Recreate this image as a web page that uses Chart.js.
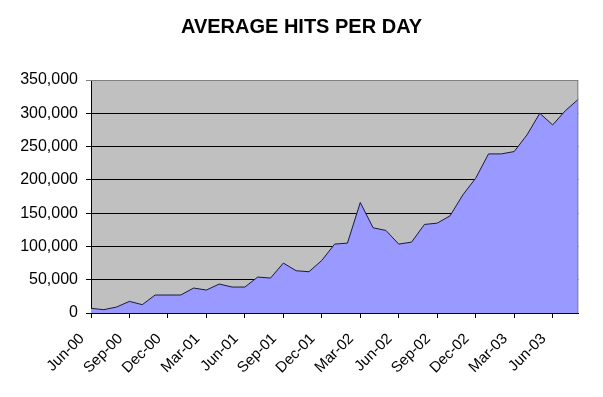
<!DOCTYPE html>
<html>
<head>
<meta charset="utf-8">
<script src="https://cdn.jsdelivr.net/npm/chart.js@4/dist/chart.umd.min.js"></script>
<style>
  html, body { margin: 0; padding: 0; background: #fff; }
  #wrap { width: 603px; height: 397px; }
</style>
</head>
<body>
<div id="wrap"><canvas id="hits" width="603" height="397"></canvas></div>
<script>
// monthly categories, Jun-00 .. Aug-03
const months = [
  'Jun-00', 'Jul-00', 'Aug-00', 'Sep-00', 'Oct-00', 'Nov-00', 'Dec-00', 'Jan-01', 'Feb-01',
  'Mar-01', 'Apr-01', 'May-01', 'Jun-01', 'Jul-01', 'Aug-01', 'Sep-01', 'Oct-01', 'Nov-01',
  'Dec-01', 'Jan-02', 'Feb-02', 'Mar-02', 'Apr-02', 'May-02', 'Jun-02', 'Jul-02', 'Aug-02',
  'Sep-02', 'Oct-02', 'Nov-02', 'Dec-02', 'Jan-03', 'Feb-03', 'Mar-03', 'Apr-03', 'May-03',
  'Jun-03', 'Jul-03', 'Aug-03'
];

// average hits per day
const avgHits = [
  7000, 5000, 9000, 17500, 12500, 27000, 27000, 27000, 37500,
  34500, 43500, 39000, 39000, 54000, 52500, 75000, 63500, 62000,
  79000, 103500, 105000, 166000, 128000, 124000, 103500, 106500, 133000,
  135000, 146000, 177500, 202500, 239000, 239000, 242500, 267500, 300000,
  282500, 304000, 321000
];

const yTicks = { min: 0, max: 350000, step: 50000 };
const labelEvery = 3;

// grey plot background + grey frame on top/right
const plotFrame = {
  id: 'plotFrame',
  beforeDraw(chart) {
    const { ctx, chartArea: a } = chart;
    ctx.save();
    ctx.fillStyle = '#C0C0C0';
    ctx.fillRect(a.left, a.top, a.right - a.left, a.bottom - a.top);
    ctx.restore();
  },
  afterDraw(chart) {
    const { ctx, chartArea: a } = chart;
    ctx.save();
    ctx.strokeStyle = '#808080';
    ctx.lineWidth = 1;
    ctx.beginPath();
    ctx.moveTo(a.left, a.top + 0.5);
    ctx.lineTo(a.right - 0.5, a.top + 0.5);
    ctx.lineTo(a.right - 0.5, a.bottom);
    ctx.stroke();
    ctx.restore();
  }
};

const font = 'Liberation Sans, Arial, sans-serif';

new Chart(document.getElementById('hits'), {
  type: 'line',
  data: {
    labels: months,
    datasets: [{
      label: 'Average hits per day',
      data: avgHits,
      fill: 'origin',
      backgroundColor: '#9999FF',
      borderColor: '#1a1a40',
      borderWidth: 1,
      pointRadius: 0,
      tension: 0
    }]
  },
  options: {
    responsive: false,
    animation: false,
    layout: { padding: 0 },
    plugins: {
      legend: { display: false },
      tooltip: { enabled: false },
      title: {
        display: true,
        text: 'AVERAGE HITS PER DAY',
        color: '#000',
        font: { family: font, size: 20, weight: 'bold' },
        padding: { top: 15, bottom: 41 }
      }
    },
    scales: {
      x: {
        offset: false,
        afterFit: s => { s.height = 84; },
        border: { color: '#000', width: 1 },
        grid: {
          drawOnChartArea: false,
          tickLength: 5,
          color: c => (c.index % labelEvery === 0 ? '#000' : 'rgba(0,0,0,0)')
        },
        ticks: {
          autoSkip: false,
          maxRotation: 45,
          minRotation: 45,
          color: '#000',
          padding: 12,
          labelOffset: -9,
          font: { family: font, size: 15 },
          callback: (v, i) => (i % labelEvery === 0 ? months[i] : '')
        }
      },
      y: {
        min: yTicks.min,
        max: yTicks.max,
        afterFit: s => { s.width = 91; },
        border: { color: '#000', width: 1 },
        grid: {
          color: c => (c.tick && c.tick.value === yTicks.max ? '#808080' : '#000'),
          tickLength: 5
        },
        ticks: {
          stepSize: yTicks.step,
          color: '#000',
          padding: 8,
          font: { family: font, size: 16 },
          callback: v => v.toLocaleString('en-US')
        }
      },
      // empty right-hand gutter so the plot stops at the same place as the original
      gutter: {
        position: 'right',
        display: true,
        min: 0,
        max: 1,
        afterFit: s => { s.width = 23; },
        border: { display: false },
        grid: { display: false },
        ticks: { display: false }
      }
    }
  },
  plugins: [plotFrame]
});
</script>
</body>
</html>
